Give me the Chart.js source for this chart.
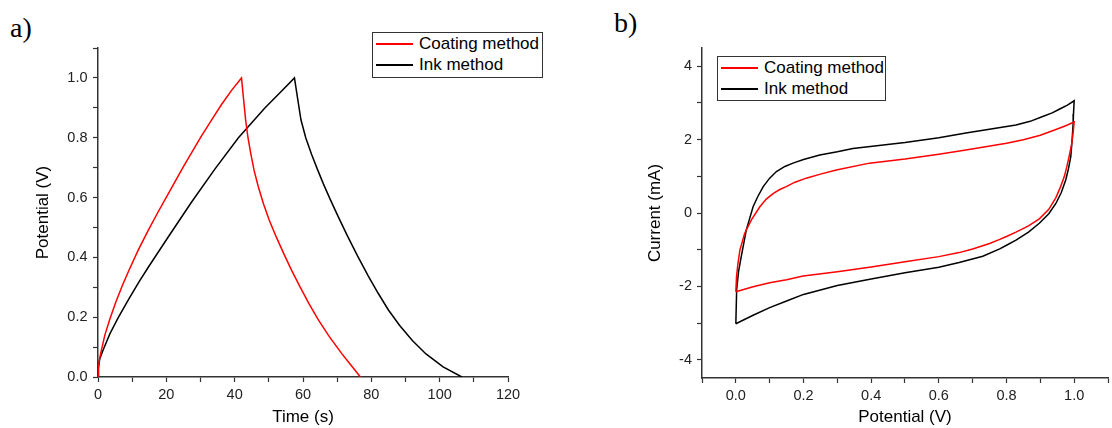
<!DOCTYPE html>
<html>
<head>
<meta charset="utf-8">
<script src="https://cdn.jsdelivr.net/npm/chart.js@4.4.1/dist/chart.umd.min.js"></script>
<style>
  body { margin: 0; background: #fff; width: 1112px; height: 428px; position: relative; overflow: hidden; font-family: "Liberation Sans", Arial, sans-serif; }
  .panel { position: absolute; top: 0; width: 556px; height: 428px; }
  .tag { position: absolute; font-family: "Liberation Serif", "Times New Roman", serif; font-size: 28px; line-height: 28px; color: #000; }
  .legend { position: absolute; border: 1px solid #333; background: #fff; box-sizing: border-box; }
  .legend .row { position: absolute; left: 0; height: 20px; line-height: 20px; font-size: 17px; white-space: nowrap; color: #000; }
  .legend .swatch { position: absolute; left: 3px; top: 9px; width: 37px; height: 1.5px; }
  .legend .name { position: absolute; left: 46px; top: 0; }
</style>
</head>
<body>
<div class="tag" style="left:10px;top:14px">a)</div>
<div class="tag" style="left:614px;top:9px">b)</div>
<div class="panel" style="left:0"><canvas id="gcdChart"></canvas></div>
<div class="panel" style="left:556px"><canvas id="cvChart"></canvas></div>
<div class="legend" id="gcdLegend" style="left:372px;top:32px;width:171px;height:46px"></div>
<div class="legend" id="cvLegend" style="left:717px;top:56px;width:169px;height:45px"></div>
<script>
const seriesNames = ["Coating method", "Ink method"];
const seriesColors = ["#ff0000", "#000000"];

// a) charge / discharge
const coatingTime = [0, 0.15, 0.35, 0.9, 2.0, 3.5, 5.2, 7.1, 9.0, 11.8, 14.7, 17.5, 20.1, 25.0, 30.3, 33.5, 36.2, 39.2, 42.0,
  42.6, 43.2, 43.9, 44.7, 45.7, 46.9, 48.4, 50.1, 52.1, 54.3, 56.6, 59.1, 61.7, 64.5, 67.7, 71.3, 74.0, 76.8];
const coatingPotential = [0, 0.03, 0.055, 0.085, 0.14, 0.195, 0.25, 0.305, 0.355, 0.425, 0.49, 0.55, 0.603, 0.703, 0.806, 0.864, 0.912, 0.96, 1.0,
  0.93, 0.86, 0.8, 0.748, 0.69, 0.637, 0.58, 0.525, 0.47, 0.414, 0.358, 0.302, 0.246, 0.191, 0.135, 0.079, 0.04, 0.0];
const inkTime = [0, 0.1, 0.5, 1.5, 3.5, 6.0, 9.0, 12.0, 15.0, 20.6, 27.4, 34.2, 41.1, 48.9, 53.4, 57.5,
  58.5, 59.4, 60.8, 62.5, 64.2, 66.0, 68.0, 70.3, 73.0, 76.0, 79.0, 82.0, 85.0, 88.3, 92.0, 96.0, 101.0, 106.5];
const inkPotential = [0, 0.03, 0.06, 0.09, 0.145, 0.2, 0.26, 0.318, 0.372, 0.469, 0.585, 0.695, 0.8, 0.9, 0.952, 1.0,
  0.926, 0.86, 0.8, 0.745, 0.695, 0.645, 0.593, 0.536, 0.472, 0.404, 0.34, 0.28, 0.224, 0.172, 0.122, 0.077, 0.034, 0.0];

// b) cyclic voltammetry
const coatingCvPotential = [0, 0.002, 0.006, 0.012, 0.026, 0.046, 0.071, 0.09, 0.11, 0.13, 0.149, 0.175, 0.208, 0.25, 0.297, 0.395, 0.5, 0.6, 0.68, 0.8, 0.85, 0.9, 0.95, 0.975, 1.0,
  0.997, 0.993, 0.985, 0.978, 0.971, 0.96, 0.946, 0.925, 0.897, 0.865, 0.828, 0.8, 0.78, 0.75, 0.7, 0.66, 0.6, 0.5, 0.4, 0.3, 0.199, 0.15, 0.1, 0.051, 0];
const coatingCvCurrent = [-2.15, -1.74, -1.4, -1.01, -0.56, -0.19, 0.17, 0.38, 0.53, 0.64, 0.72, 0.84, 0.95, 1.06, 1.17, 1.36, 1.47, 1.6, 1.72, 1.9, 2.0, 2.12, 2.29, 2.38, 2.48,
  2.2, 1.9, 1.54, 1.25, 1.0, 0.72, 0.42, 0.1, -0.16, -0.35, -0.52, -0.64, -0.72, -0.83, -0.98, -1.08, -1.19, -1.33, -1.47, -1.6, -1.72, -1.82, -1.9, -2.01, -2.15];
const inkCvPotential = [0, 0.0024, 0.008, 0.016, 0.031, 0.051, 0.065, 0.081, 0.1, 0.12, 0.145, 0.169, 0.2, 0.248, 0.3, 0.346, 0.5, 0.6, 0.68, 0.828, 0.87, 0.907, 0.935, 0.956, 0.98, 1.0,
  0.998, 0.997, 0.994, 0.99, 0.983, 0.975, 0.962, 0.946, 0.925, 0.897, 0.865, 0.828, 0.8, 0.78, 0.73, 0.66, 0.6, 0.5, 0.4, 0.3, 0.2, 0.15, 0.1, 0.051, 0];
const inkCvCurrent = [-3.02, -2.1, -1.6, -1.19, -0.46, 0.17, 0.45, 0.72, 0.95, 1.13, 1.27, 1.36, 1.46, 1.58, 1.67, 1.76, 1.92, 2.05, 2.18, 2.4, 2.5, 2.63, 2.73, 2.83, 2.94, 3.06,
  2.7, 2.45, 2.0, 1.54, 1.2, 0.9, 0.56, 0.26, -0.02, -0.28, -0.52, -0.74, -0.88, -0.98, -1.18, -1.35, -1.48, -1.63, -1.8, -1.98, -2.22, -2.4, -2.58, -2.79, -3.02];

// axis ticks
const timeTicks = [0, 10, 20, 30, 40, 50, 60, 70, 80, 90, 100, 110, 120];
const potentialTicks = [0, 0.1, 0.2, 0.3, 0.4, 0.5, 0.6, 0.7, 0.8, 0.9, 1.0, 1.1];
const cvPotentialTicks = [-0.1, 0, 0.1, 0.2, 0.3, 0.4, 0.5, 0.6, 0.7, 0.8, 0.9, 1.0, 1.1];
const currentTicks = [-4, -3, -2, -1, 0, 1, 2, 3, 4];

Chart.defaults.font.family = '"Liberation Sans", Arial, sans-serif';

function points(xs, ys) {
  return xs.map((x, i) => ({x: x, y: ys[i]}));
}

function line(i, xs, ys) {
  return {
    label: seriesNames[i],
    data: points(xs, ys),
    showLine: true,
    borderColor: seriesColors[i],
    backgroundColor: seriesColors[i],
    borderWidth: 1.5,
    pointRadius: 0,
    tension: 0,
    fill: false
  };
}

function axis(o) {
  return {
    type: 'linear',
    min: o.min,
    max: o.max,
    afterBuildTicks: (s) => { s.ticks = o.ticks.map(v => ({value: v})); },
    afterFit: (s) => {
      if (o.width) s.width = o.width;
      if (o.height) s.height = o.height;
    },
    border: {display: true, color: '#333', width: 1.5},
    grid: {drawOnChartArea: false, drawTicks: true, tickLength: 5, tickColor: '#333', tickWidth: 1.2},
    ticks: {color: '#222', font: {size: 14.5}, padding: o.tickPad, maxRotation: 0, autoSkip: false, callback: o.label},
    title: {display: true, text: o.title, color: '#000', font: {size: 17}, padding: o.titlePad}
  };
}

function makeLegend(id) {
  const box = document.getElementById(id);
  seriesNames.forEach((name, i) => {
    const row = document.createElement('div');
    row.className = 'row';
    row.style.top = (1 + i * 21) + 'px';
    const sw = document.createElement('span');
    sw.className = 'swatch';
    sw.style.background = seriesColors[i];
    const txt = document.createElement('span');
    txt.className = 'name';
    txt.textContent = name;
    row.appendChild(sw);
    row.appendChild(txt);
    box.appendChild(row);
  });
}

const common = {
  responsive: true,
  maintainAspectRatio: false,
  animation: false,
  plugins: {legend: {display: false}, tooltip: {enabled: false}}
};

new Chart(document.getElementById('gcdChart'), {
  type: 'scatter',
  data: {datasets: [line(0, coatingTime, coatingPotential), line(1, inkTime, inkPotential)]},
  options: Object.assign({}, common, {
    layout: {padding: {left: 0, top: 48, right: 48, bottom: 0}},
    scales: {
      x: axis({min: 0, max: 120, ticks: timeTicks, height: 51, tickPad: 4, title: 'Time (s)', titlePad: {top: 0, bottom: 0},
        label: v => (v % 20 === 0 ? String(v) : '')}),
      y: axis({min: 0, max: 1.1, ticks: potentialTicks, width: 98, tickPad: 5.5, title: 'Potential (V)', titlePad: {top: 33.5, bottom: 0},
        label: v => (Math.round(v * 10) % 2 === 0 ? v.toFixed(1) : '')})
    }
  })
});

new Chart(document.getElementById('cvChart'), {
  type: 'scatter',
  data: {datasets: [line(0, coatingCvPotential, coatingCvCurrent), line(1, inkCvPotential, inkCvCurrent)]},
  options: Object.assign({}, common, {
    layout: {padding: {left: 0, top: 48, right: 3, bottom: 0}},
    scales: {
      x: axis({min: -0.1, max: 1.1, ticks: cvPotentialTicks, height: 50, tickPad: 4, title: 'Potential (V)', titlePad: {top: 0, bottom: 0},
        label: v => (Math.round(v * 10) % 2 === 0 ? v.toFixed(1) : '')}),
      y: axis({min: -4.5, max: 4.5, ticks: currentTicks, width: 146, tickPad: 5, title: 'Current (mA)', titlePad: {top: 89, bottom: 0},
        label: v => (v % 2 === 0 ? String(v) : '')})
    }
  })
});

makeLegend('gcdLegend');
makeLegend('cvLegend');
</script>
</body>
</html>
